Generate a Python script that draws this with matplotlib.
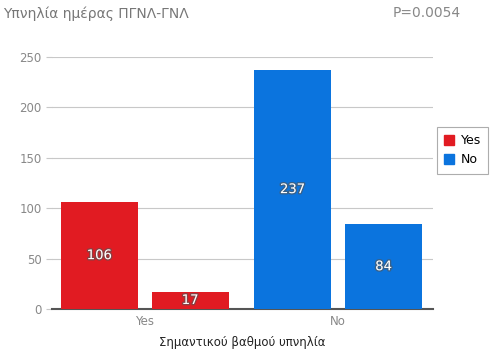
import numpy as np
import matplotlib
matplotlib.use("Agg")
import matplotlib.pyplot as plt
import matplotlib.patheffects as pe

# --- Donnees ---
categories = ["Yes", "No"]
series_colors = ["#E11B22", "#0B74DE"]
first_bar = [106, 237]
second_bar = [17, 84]
yticks = [0, 50, 100, 150, 200, 250]

plt.rcParams["font.family"] = ["DejaVu Sans"]
fig = plt.figure(figsize=(4.97, 3.52), dpi=100)
ax = fig.add_axes([0.1046, 0.122, 0.7664, 0.716])

x = np.arange(len(categories))
w = 0.40
off = 0.235
shadow = [pe.withStroke(linewidth=2, foreground="#555555", alpha=0.6)]
for i in range(len(categories)):
    for dx, v in [(-off, first_bar[i]), (off, second_bar[i])]:
        ax.bar(x[i] + dx, v, width=w, color=series_colors[i], zorder=3)
        ax.text(x[i] + dx, v / 2, str(v), ha="center", va="center",
                color="white", fontsize=9.5, zorder=4, path_effects=shadow)

ax.set_xlim(-0.48, 1.49)
ax.set_ylim(0, 250)
ax.set_yticks(yticks)
ax.set_xticks(x)
ax.set_xticklabels(categories)
ax.yaxis.grid(True, color="#c8c8c8", linewidth=0.8, zorder=0)
for s in ["top", "right", "left"]:
    ax.spines[s].set_visible(False)
ax.spines["bottom"].set_color("#555555")
ax.spines["bottom"].set_linewidth(1.5)
ax.tick_params(axis="y", colors="#888888", labelsize=8.5, length=4, color="#c8c8c8")
ax.tick_params(axis="x", colors="#888888", labelsize=8.5, length=0, pad=4)
ax.set_xlabel("Σημαντικού βαθμού υπνηλία", fontsize=8.5, color="#222222", labelpad=6)

fig.text(0.006, 0.962, "Υπνηλία ημέρας ΠΓΝΛ-ΓΝΛ", fontsize=10, color="#777777", va="center")
fig.text(0.789, 0.962, "P=0.0054", fontsize=10, color="#888888", va="center")

handles = [plt.Rectangle((0, 0), 1, 1, color=c) for c in series_colors]
leg = fig.legend(handles, categories, loc="center left", bbox_to_anchor=(0.874, 0.573),
                 fontsize=9, frameon=True, fancybox=False, edgecolor="#999999",
                 handlelength=0.8, handleheight=0.8, handletextpad=0.5, borderpad=0.6,
                 borderaxespad=0.2)
leg.get_frame().set_linewidth(0.8)

fig.savefig("out.png", dpi=100)
